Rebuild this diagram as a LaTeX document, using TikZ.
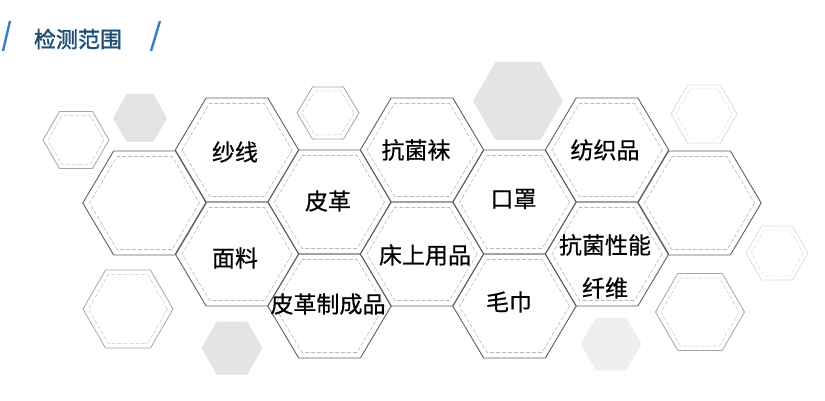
\documentclass[tikz,border=0pt]{standalone}
\usepackage{fontspec}
\usepackage{xcolor}
\usetikzlibrary{calc}
\newfontfamily\cjk{Noto Sans CJK SC}[FakeBold=0.6]
\newfontfamily\cjkhead{Noto Sans CJK SC}[FakeBold=1.6]

\definecolor{titleblue}{RGB}{28,78,118}
\definecolor{slashblue}{RGB}{60,125,190}
\definecolor{cellline}{RGB}{95,95,95}
\definecolor{dashline}{RGB}{185,185,185}
\definecolor{decoline}{RGB}{165,165,165}
\definecolor{paleline}{RGB}{220,220,220}
\definecolor{decofill}{RGB}{228,228,228}
\definecolor{palefill}{RGB}{238,238,238}

% flat-topped hexagon: centre, half width, half height
\newcommand{\hexcell}[4][]{%
  \path[#1] (#2) ++(#3,0) -- ++(-#3/2,#4) -- ++(-#3,0) -- ++(-#3/2,-#4)
    -- ++(#3/2,-#4) -- ++(#3,0) -- cycle;}

\begin{document}
\begin{tikzpicture}[x=1pt, y=-1pt,
    cell/.style={draw=cellline, line width=0.9pt},
    cellin/.style={draw=dashline, line width=0.6pt, dash pattern=on 4pt off 2pt},
    deco/.style={draw=decoline, line width=0.8pt},
    decoin/.style={draw=dashline!80, line width=0.5pt, dash pattern=on 4pt off 2pt},
    pale/.style={draw=paleline, line width=0.8pt},
    palein/.style={draw=paleline, line width=0.5pt, dash pattern=on 4pt off 2pt},
    label/.style={font=\cjk\fontsize{23}{26}\selectfont, inner sep=0pt}]
  \useasboundingbox (0,0) rectangle (825,401);

  % heading
  \node[font=\cjkhead\fontsize{22}{24}\selectfont, text=titleblue, inner sep=0pt]
       (title) at (78,39) {检测范围};
  \draw[slashblue, line width=2.4pt] (10,21) -- (3,51);
  \draw[slashblue, line width=2.4pt] (160,21) -- (151,51);

  % cell centres
  \coordinate (c0)  at (144.5,203);
  \coordinate (c1a) at (237,150);   \coordinate (c1b) at (237,254);
  \coordinate (c2a) at (329.5,202); \coordinate (c2b) at (329.5,306);
  \coordinate (c3a) at (422,150);   \coordinate (c3b) at (422,254);
  \coordinate (c4a) at (514.5,202); \coordinate (c4b) at (514.5,306);
  \coordinate (c5a) at (607,150);   \coordinate (c5b) at (607,254);
  \coordinate (c6)  at (699.5,203);

  % small decorative cells
  \coordinate (d1) at (76,140);   \coordinate (d2) at (140,118);
  \coordinate (d3) at (328,113);  \coordinate (d4) at (518,101);
  \coordinate (d5) at (704,114);  \coordinate (d6) at (777,253);
  \coordinate (d7) at (700,312);  \coordinate (d8) at (611,344);
  \coordinate (d9) at (128,309);  \coordinate (d10) at (232,348);

  \hexcell[fill=decofill]{d2}{27}{24}
  \hexcell[fill=decofill]{d4}{45}{39}
  \hexcell[fill=palefill]{d8}{30.5}{26.5}
  \hexcell[fill=decofill]{d10}{30.5}{26.5}

  \hexcell[deco]{d1}{33}{28.5}    \hexcell[decoin]{d1}{28}{24.5}
  \hexcell[deco]{d3}{31}{26}      \hexcell[decoin]{d3}{26}{22}
  \hexcell[pale]{d5}{33}{29}      \hexcell[palein]{d5}{28}{25}
  \hexcell[pale]{d6}{31}{27}      \hexcell[palein]{d6}{26}{23}
  \hexcell[deco]{d7}{44.5}{38.5}  \hexcell[decoin]{d7}{39}{34}
  \hexcell[deco]{d9}{45}{39}      \hexcell[decoin]{d9}{39.5}{34.5}

  % main cells
  \foreach \c in {c0,c1a,c1b,c2a,c2b,c3a,c3b,c4a,c4b,c5a,c5b,c6}{
    \hexcell[cell]{\c}{61.7}{52}
    \hexcell[cellin]{\c}{55}{46.5}
  }

  % labels
  \node[label] (yarn)    at (235,152)   {纱线};
  \node[label] (fabric)  at (235,258)   {面料};
  \node[label] (leather) at (328,201)   {皮革};
  \node[label] (goods)   at (328,304)   {皮革制成品};
  \node[label] (socks)   at (416,150)   {抗菌袜};
  \node[label] (bedding) at (425,255)   {床上用品};
  \node[label] (mask)    at (513.5,199) {口罩};
  \node[label] (towel)   at (509,302)   {毛巾};
  \node[label] (textile) at (605,150)   {纺织品};
  \node[label] (fibre1)  at (605,245)   {抗菌性能};
  \node[label] (fibre2)  at (605,288)   {纤维};
\end{tikzpicture}
\end{document}
